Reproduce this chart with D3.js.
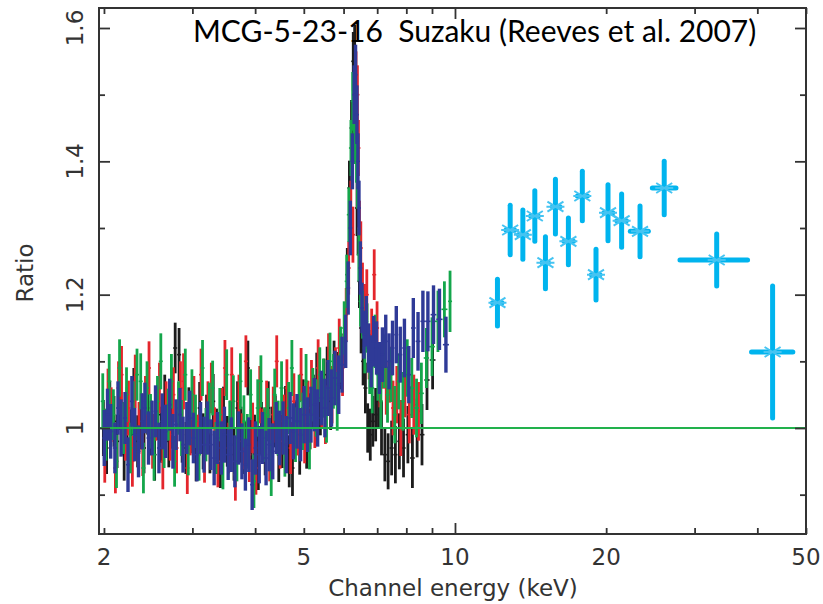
<!DOCTYPE html>
<html>
<head>
<meta charset="utf-8">
<script src="https://cdn.jsdelivr.net/npm/d3@7"></script>
<style>
    body { margin: 0; background: #fff; }
    svg  { display: block; }
    .axis-label, .tick-label { font-family: 'DejaVu Sans', sans-serif; font-size: 23px; fill: #333; }
    .title { font-family: Lato, 'Open Sans', sans-serif; font-size: 30px; fill: #000; white-space: pre; }
</style>
</head>
<body>
<svg id="chart" width="823" height="604"></svg>
<script>
//////////////////////////////////////////////
///// MCG-5-23-16 SUZAKU RATIO PLOT     //////
//////////////////////////////////////////////

// DATA

// XIS channel energies (keV), shared by the four XIS spectra
const xisEnergy = [
    2.00, 2.03, 2.06, 2.10, 2.13, 2.16, 2.20, 2.23, 2.27, 2.30,
    2.34, 2.38, 2.41, 2.45, 2.49, 2.53, 2.57, 2.61, 2.65, 2.70,
    2.74, 2.78, 2.83, 2.87, 2.92, 2.96, 3.01, 3.06, 3.11, 3.16,
    3.21, 3.26, 3.31, 3.36, 3.42, 3.47, 3.53, 3.58, 3.64, 3.70,
    3.76, 3.82, 3.88, 3.94, 4.00, 4.07, 4.13, 4.20, 4.26, 4.33,
    4.40, 4.47, 4.54, 4.61, 4.69, 4.76, 4.84, 4.92, 5.00, 5.08,
    5.16, 5.24, 5.32, 5.41, 5.50, 5.58, 5.67, 5.76, 5.86, 5.95,
    6.05, 6.12, 6.18, 6.24, 6.29, 6.33, 6.37, 6.40, 6.43, 6.47,
    6.52, 6.58, 6.65, 6.72, 6.80, 6.88, 6.97, 7.06, 7.16, 7.27,
    7.38, 7.50, 7.63, 7.77, 7.92, 8.08, 8.25, 8.43, 8.62, 8.82,
    9.05, 9.30, 9.58, 9.83
]

// 1-sigma error on the ratio for each channel
const xisErr = [
    0.042, 0.039, 0.041, 0.038, 0.040, 0.043, 0.039, 0.041, 0.038, 0.040,
    0.039, 0.042, 0.038, 0.040, 0.041, 0.039, 0.038, 0.042, 0.040, 0.039,
    0.041, 0.038, 0.040, 0.042, 0.039, 0.041, 0.038, 0.040, 0.039, 0.042,
    0.040, 0.038, 0.041, 0.039, 0.040, 0.042, 0.038, 0.041, 0.039, 0.040,
    0.042, 0.039, 0.041, 0.038, 0.040, 0.043, 0.039, 0.041, 0.040, 0.042,
    0.039, 0.041, 0.040, 0.043, 0.039, 0.042, 0.041, 0.040, 0.043, 0.041,
    0.042, 0.040, 0.043, 0.041, 0.044, 0.042, 0.043, 0.041, 0.044, 0.042,
    0.040, 0.040, 0.041, 0.042, 0.044, 0.045, 0.044, 0.042, 0.041, 0.040,
    0.038, 0.036, 0.038, 0.037, 0.039, 0.038, 0.040, 0.039, 0.041, 0.040,
    0.042, 0.041, 0.043, 0.042, 0.044, 0.043, 0.045, 0.044, 0.046, 0.045,
    0.044, 0.046, 0.042, 0.046
]

const ratioBlack = [
    1.000, 0.970, 1.030, 1.010, 0.980, 1.040, 0.960, 1.020, 0.990, 1.050,
    0.980, 1.010, 0.970, 1.030, 1.000, 0.960, 1.020, 0.990, 1.040, 0.980,
    1.010, 1.120, 1.110, 0.990, 0.970, 1.020, 1.000, 0.960, 1.030, 0.980,
    1.010, 0.970, 1.040, 0.990, 0.950, 1.020, 0.980, 1.000, 0.960, 1.030,
    0.990, 0.970, 1.090, 0.990, 0.980, 0.950, 1.000, 0.970, 1.030, 0.990,
    1.010, 0.960, 0.980, 1.020, 0.950, 0.940, 1.000, 0.970, 1.030, 0.980,
    1.010, 1.040, 1.070, 1.030, 1.060, 1.080, 1.040, 1.090, 1.070, 1.100,
    1.140, 1.230, 1.360, 1.450, 1.550, 1.560, 1.450, 1.330, 1.300, 1.220,
    1.150, 1.100, 1.060, 1.000, 0.990, 1.010, 1.020, 1.040, 1.000, 0.960,
    0.950, 0.970, 0.960, 0.980, 0.970, 0.990, 0.955, 1.000, 0.990, 1.072,
    1.102, null, null, null
]

const ratioRed = [
    0.960, 1.050, 1.020, 0.940, 1.060, 1.080, 0.990, 1.030, 0.950, 1.070,
    1.000, 0.970, 1.040, 1.090, 0.980, 1.020, 1.060, 0.950, 1.030, 0.990,
    1.050, 0.970, 1.060, 1.070, 0.940, 1.000, 1.040, 0.980, 1.080, 0.960,
    1.030, 1.060, 0.990, 0.950, 1.020, 1.090, 0.970, 1.080, 0.930, 1.040,
    0.980, 1.100, 0.960, 1.000, 0.940, 1.050, 0.990, 1.030, 0.960, 1.020,
    1.100, 0.980, 1.010, 1.060, 0.970, 1.040, 1.000, 1.080, 0.990, 1.030,
    1.060, 1.010, 1.090, 1.040, 1.020, 1.100, 1.050, 1.080, 1.120, 1.090,
    1.170, 1.240, 1.330, 1.290, 1.450, 1.520, 1.500, 1.420, 1.300, 1.270,
    1.210, 1.180, 1.200, 1.110, 1.140, 1.230, 1.150, 1.070, 1.100, 1.060,
    1.080, 1.030, 1.050, 1.000, 1.060, 1.020, 1.035, 1.025, null, null,
    null, null, null, null
]

const ratioGreen = [
    1.040, 0.990, 1.070, 1.020, 0.950, 1.090, 1.000, 1.050, 0.970, 1.030,
    1.080, 1.070, 0.940, 1.060, 1.010, 0.960, 1.040, 1.100, 0.980, 1.020,
    1.070, 0.950, 1.030, 1.000, 1.080, 0.970, 1.050, 1.010, 0.960, 1.090,
    0.990, 1.030, 1.060, 0.970, 1.020, 0.950, 1.080, 1.000, 1.040, 0.960,
    1.070, 1.010, 0.980, 1.050, 0.920, 1.030, 1.070, 0.990, 1.020, 0.940,
    1.050, 1.000, 1.060, 0.970, 1.030, 1.090, 0.990, 1.040, 1.010, 1.070,
    0.980, 1.050, 1.030, 1.080, 1.060, 1.020, 1.100, 1.070, 1.040, 1.110,
    1.150, 1.220, 1.320, 1.420, 1.490, 1.470, 1.440, 1.410, 1.370, 1.260,
    1.190, 1.170, 1.120, 1.150, 1.090, 1.060, 1.130, 1.080, 1.040, 1.100,
    1.050, 1.080, 1.020, 1.070, 1.040, 1.090, 1.060, 1.030, 1.052, 1.105,
    1.122, 1.160, 1.178, 1.190
]

const ratioBlue = [
    0.985, 1.020, 0.995, 0.970, 1.030, 1.000, 1.015, 0.945, 1.040, 0.990,
    0.965, 1.010, 1.030, 0.985, 1.000, 1.025, 0.970, 1.010, 0.995, 1.035,
    0.980, 1.005, 1.020, 0.975, 1.000, 1.015, 0.985, 0.960, 1.000, 0.975,
    1.000, 0.975, 0.955, 0.985, 0.970, 0.990, 0.960, 0.975, 0.950, 0.985,
    0.965, 0.945, 0.975, 0.915, 0.970, 0.960, 0.985, 0.955, 0.975, 0.965,
    1.000, 0.985, 1.000, 0.975, 1.015, 0.995, 1.010, 0.990, 1.020, 1.005,
    1.020, 1.035, 1.015, 1.045, 1.030, 1.060, 1.045, 1.075, 1.065, 1.095,
    1.130, 1.210, 1.300, 1.400, 1.500, 1.530, 1.470, 1.400, 1.330, 1.240,
    1.180, 1.140, 1.160, 1.120, 1.100, 1.130, 1.120, 1.090, 1.110, 1.130,
    1.100, 1.120, 1.140, 1.110, 1.120, 1.080, 1.150, 1.130, 1.160, 1.160,
    1.170, 1.163, 1.125, null
]

// HXD/PIN bins: centre, lower and upper bin edge (keV), ratio and error
const pinEnergy = [12.15, 12.88, 13.65, 14.42, 15.14, 15.85, 16.82, 17.93, 19.09, 20.17, 21.47, 23.36, 26.1, 33.2, 42.9]
const pinLow    = [11.77, 12.52, 13.26, 14.02, 14.78, 15.49, 16.33, 17.37, 18.52, 19.62, 20.81, 22.14, 24.49, 27.8, 38.6]
const pinHigh   = [12.52, 13.26, 14.02, 14.78, 15.49, 16.33, 17.37, 18.52, 19.62, 20.81, 22.14, 24.49, 27.8, 38.6, 47.5]
const pinRatio  = [1.188, 1.297, 1.290, 1.318, 1.248, 1.332, 1.280, 1.348, 1.230, 1.323, 1.311, 1.295, 1.360, 1.252, 1.114]
const pinErr    = [0.038, 0.040, 0.040, 0.041, 0.042, 0.044, 0.038, 0.040, 0.041, 0.045, 0.043, 0.041, 0.043, 0.042, 0.102]

// Axis ticks
const xMinorTicks = [2, 3, 4, 5, 6, 7, 8, 9, 20, 30, 40, 50]
const xMajorTicks = [10]
const xTickLabels = [2, 5, 10, 20, 50]
const yMajorTicks = [1.0, 1.2, 1.4, 1.6]
const yMinorTicks = [0.9, 1.1, 1.3, 1.5]
const modelLevel  = 1.0


// SETTINGS
const settings = {
    frame:  { left: 99, right: 806, top: 8, bottom: 534 },
    colour: {
        axis:  '#333333',
        black: '#1c1c1c',
        red:   '#e4262c',
        green: '#14a64b',
        blue:  '#2f3a97',
        pin:   '#00b4ee',
        star:  '#45c4f2',
        model: '#22b14c'
    }
}

const xisSeries = [
    { key: 'black', values: ratioBlack, dx: -0.6, width: 2.8 },
    { key: 'red',   values: ratioRed,   dx:  0.8, width: 2.8 },
    { key: 'green', values: ratioGreen, dx: -1.2, width: 2.8 },
    { key: 'blue',  values: ratioBlue,  dx:  0.3, width: 3.4 }
]


// I. SCALES AND SVG
const f = settings.frame
const x = d3.scaleLog().domain([1.955, 50]).range([f.left, f.right])
const y = d3.scaleLinear().domain([0.841, 1.63]).range([f.bottom, f.top])

const svg = d3.select('#chart')

svg.append('defs').append('clipPath').attr('id', 'plot-clip')
    .append('rect')
    .attr('x', f.left).attr('y', f.top)
    .attr('width', f.right - f.left).attr('height', f.bottom - f.top)

const plot = svg.append('g').attr('clip-path', 'url(#plot-clip)')


// II. XIS SPECTRA (error bars with bin-width ticks)
// half bin width in px, from the neighbouring channel energies
const binHalf = xisEnergy.map((e, i) => {
    const prev = xisEnergy[i - 1] ?? e, next = xisEnergy[i + 1] ?? e
    return Math.max(2, (x(next) - x(prev)) / 4)
})

xisSeries.forEach(series => {
    const pts = xisEnergy.map((e, i) => ({ e, v: series.values[i], err: xisErr[i], hw: binHalf[i] }))
        .filter(d => d.v != null)
    const g = plot.append('g').attr('class', `xis ${series.key}`)
        .attr('stroke', settings.colour[series.key])

    g.selectAll('line.err').data(pts).join('line').attr('class', 'err')
        .attr('x1', d => x(d.e) + series.dx).attr('x2', d => x(d.e) + series.dx)
        .attr('y1', d => y(d.v - d.err)).attr('y2', d => y(d.v + d.err))
        .attr('stroke-width', series.width)

    g.selectAll('line.bin').data(pts).join('line').attr('class', 'bin')
        .attr('x1', d => x(d.e) + series.dx - d.hw).attr('x2', d => x(d.e) + series.dx + d.hw)
        .attr('y1', d => y(d.v)).attr('y2', d => y(d.v))
        .attr('stroke-width', 1.6)
})


// III. PIN DATA (thick crosses with asterisk markers)
const pin = pinEnergy.map((e, i) => ({ e, lo: pinLow[i], hi: pinHigh[i], v: pinRatio[i], err: pinErr[i] }))
const pinG = plot.append('g').attr('class', 'pin')
    .attr('stroke', settings.colour.pin).attr('stroke-width', 5).attr('stroke-linecap', 'round')

pinG.selectAll('line.v').data(pin).join('line').attr('class', 'v')
    .attr('x1', d => x(d.e)).attr('x2', d => x(d.e))
    .attr('y1', d => y(d.v - d.err) - 2).attr('y2', d => y(d.v + d.err) + 2)
pinG.selectAll('line.h').data(pin).join('line').attr('class', 'h')
    .attr('x1', d => x(d.lo) + 2).attr('x2', d => x(d.hi) - 2)
    .attr('y1', d => y(d.v)).attr('y2', d => y(d.v))

const star = plot.append('g').attr('class', 'stars')
    .attr('stroke', settings.colour.star).attr('stroke-width', 2)
star.selectAll('path').data(pin).join('path')
    .attr('fill', 'none')
    .attr('d', d => {
        const cx = x(d.e), cy = y(d.v)
        return `M${cx - 9},${cy}H${cx + 9}M${cx - 8},${cy - 5}L${cx + 8},${cy + 5}M${cx - 8},${cy + 5}L${cx + 8},${cy - 5}`
    })


// IV. MODEL LINE
plot.append('line')
    .attr('x1', f.left).attr('x2', f.right)
    .attr('y1', y(modelLevel)).attr('y2', y(modelLevel))
    .attr('stroke', settings.colour.model).attr('stroke-width', 2)


// V. AXES AND FRAME
const addTicks = (axis, transform, size, values) => {
    const g = svg.append('g').attr('class', 'axis').attr('transform', transform)
        .call(axis.tickValues(values).tickSize(size).tickFormat(''))
    g.select('.domain').remove()
    g.selectAll('text').remove()
    g.selectAll('line').attr('stroke', settings.colour.axis).attr('stroke-width', 1.8)
}
addTicks(d3.axisBottom(x), `translate(0,${f.bottom})`, -6,  xMinorTicks)
addTicks(d3.axisBottom(x), `translate(0,${f.bottom})`, -11, xMajorTicks)
addTicks(d3.axisTop(x),    `translate(0,${f.top})`,    -6,  xMinorTicks)
addTicks(d3.axisTop(x),    `translate(0,${f.top})`,    -11, xMajorTicks)
addTicks(d3.axisLeft(y),   `translate(${f.left},0)`,   -6,  yMinorTicks)
addTicks(d3.axisLeft(y),   `translate(${f.left},0)`,   -11, yMajorTicks)
addTicks(d3.axisRight(y),  `translate(${f.right},0)`,  -6,  yMinorTicks)
addTicks(d3.axisRight(y),  `translate(${f.right},0)`,  -11, yMajorTicks)

svg.append('rect')
    .attr('x', f.left).attr('y', f.top)
    .attr('width', f.right - f.left).attr('height', f.bottom - f.top)
    .attr('fill', 'none').attr('stroke', settings.colour.axis).attr('stroke-width', 2)

// Tick labels
svg.append('g').selectAll('text').data(xTickLabels).join('text')
    .attr('class', 'tick-label')
    .attr('x', d => x(d)).attr('y', 565)
    .attr('text-anchor', 'middle')
    .text(d => d)

svg.append('g').selectAll('text').data(yMajorTicks).join('text')
    .attr('class', 'tick-label')
    .attr('transform', d => `translate(83,${y(d)}) rotate(-90)`)
    .attr('text-anchor', 'middle')
    .text(d => d3.format('.1~f')(d))

// Axis titles
svg.append('text').attr('class', 'axis-label')
    .attr('x', 453).attr('y', 596).attr('text-anchor', 'middle')
    .text('Channel energy (keV)')

svg.append('text').attr('class', 'axis-label')
    .attr('transform', 'translate(33,273) rotate(-90)').attr('text-anchor', 'middle')
    .text('Ratio')


// VI. TITLE
svg.append('text').attr('class', 'title')
    .attr('x', 193).attr('y', 42)
    .text('MCG-5-23-16  Suzaku (Reeves et al. 2007)')
</script>
</body>
</html>
